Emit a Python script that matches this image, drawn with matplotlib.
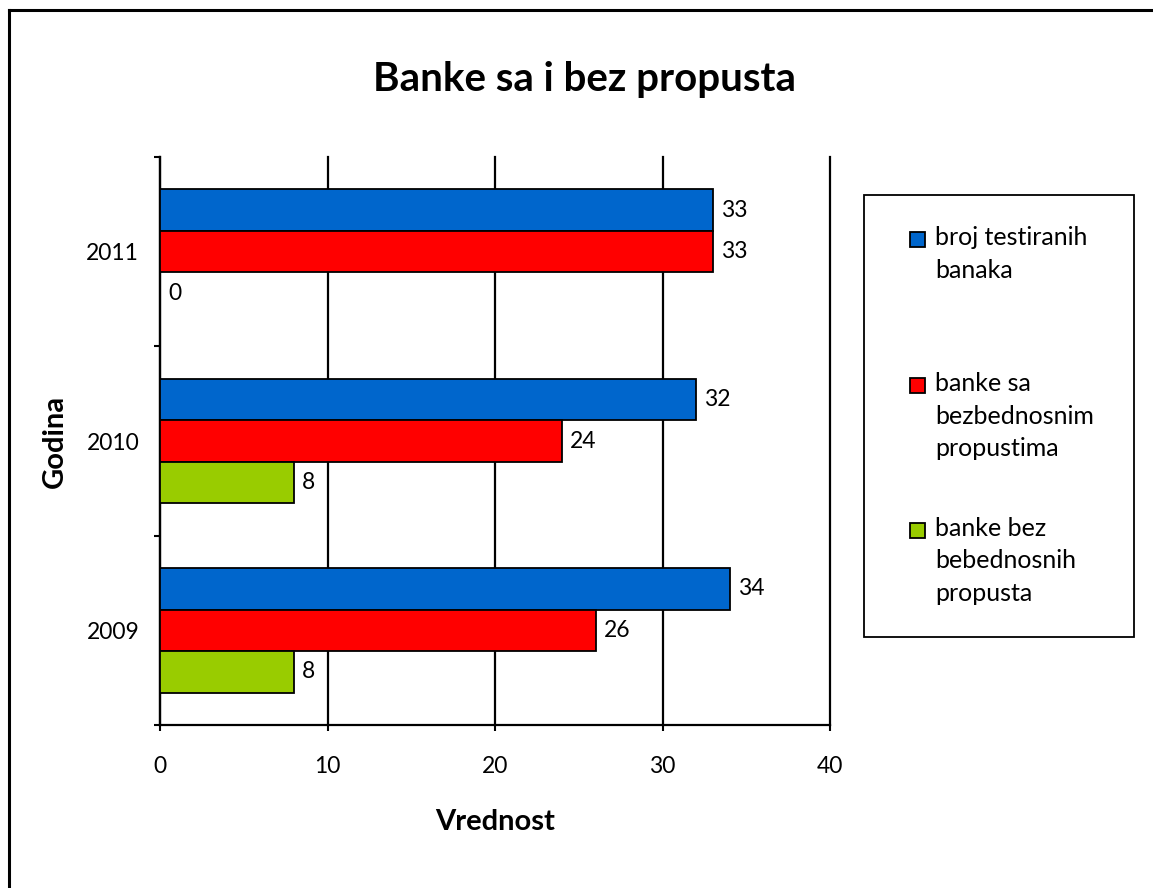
import matplotlib
matplotlib.use("Agg")
import matplotlib.pyplot as plt
from matplotlib.lines import Line2D
from matplotlib.patches import Rectangle
import numpy as np

plt.rcParams["font.family"] = ["Lato", "DejaVu Sans"]

## Data
years = ["2009", "2010", "2011"]
tested = [34, 32, 33]
with_flaws = [26, 24, 33]
without_flaws = [8, 8, 0]

series_labels = ["broj testiranih\nbanaka",
                 "banke sa\nbezbednosnim\npropustima",
                 "banke bez\nbebednosnih\npropusta"]
series_colours = ["#0066CC", "#FF0000", "#99CC00"]
x_ticks = [0, 10, 20, 30, 40]

fig = plt.figure(figsize=(11.53, 8.88), dpi=100)
ax = fig.add_axes([160/1153, 1-725/888, 670/1153, 568/888])

idx = np.arange(len(years))
bar_h = 0.22
offsets = [bar_h, 0, -bar_h]
all_series = [tested, with_flaws, without_flaws]

for vals, off, col in zip(all_series, offsets, series_colours):
	bars = ax.barh(idx + off, vals, height=bar_h, color=col, edgecolor="black", linewidth=1.3, zorder=3)
	ax.bar_label(bars, labels=[str(v) for v in vals], padding=6, fontsize=16.5)

ax.set_xlim(0, 40)
ax.set_ylim(-0.5, 2.5)
ax.set_xticks(x_ticks)
ax.set_xticklabels([str(t) for t in x_ticks], fontsize=16.5)
ax.set_yticks(np.arange(-0.5, 3, 1))
ax.set_yticklabels([])
ax.set_yticks(idx, minor=True)
ax.set_yticklabels(years, minor=True, fontsize=16.5)

ax.tick_params(axis="x", which="major", direction="out", length=4.5, width=1.5, pad=18)
ax.tick_params(axis="y", which="major", direction="out", length=4.5, width=1.5)
ax.tick_params(axis="y", which="minor", length=0, pad=15)

ax.grid(axis="x", color="black", linewidth=1.6)
for gl in ax.get_xgridlines():
	gl.set_clip_on(False)
ax.set_axisbelow(True)
ax.spines["top"].set_visible(False)
ax.spines["right"].set_visible(False)
ax.spines["left"].set_linewidth(1.6)
ax.spines["bottom"].set_linewidth(1.6)

fig.text(584/1153, 1-80/888, "Banke sa i bez propusta", fontsize=29, fontweight="bold", ha="center", va="center")
fig.text(55/1153, 1-441/888, "Godina", fontsize=21, fontweight="bold", rotation=90, ha="center", va="center")
fig.text(495/1153, 1-822/888, "Vrednost", fontsize=21, fontweight="bold", ha="center", va="center")

## Legend drawn by hand so the markers sit on the first text line
fig.patches.append(Rectangle((864/1153, 1-637/888), 270/1153, 442/888, transform=fig.transFigure,
	facecolor="white", edgecolor="black", linewidth=1.3))
first_line_y = [240, 386, 531]
for lab, col, ly in zip(series_labels, series_colours, first_line_y):
	fig.patches.append(Rectangle((910/1153, 1-(ly+7)/888), 15/1153, 15/888, transform=fig.transFigure,
		facecolor=col, edgecolor="black", linewidth=1.3))
	fig.text(935/1153, 1-(ly-14)/888, lab, fontsize=18, ha="left", va="top", linespacing=1.5)

## Outer frame (only top and left edges show in the crop)
fig.lines.append(Line2D([9/1153, 1], [1-10/888, 1-10/888], transform=fig.transFigure, color="black", linewidth=2.2))
fig.lines.append(Line2D([9/1153, 9/1153], [0, 1-10/888], transform=fig.transFigure, color="black", linewidth=2.2))

plt.savefig("out.png", dpi=100)
plt.close()
